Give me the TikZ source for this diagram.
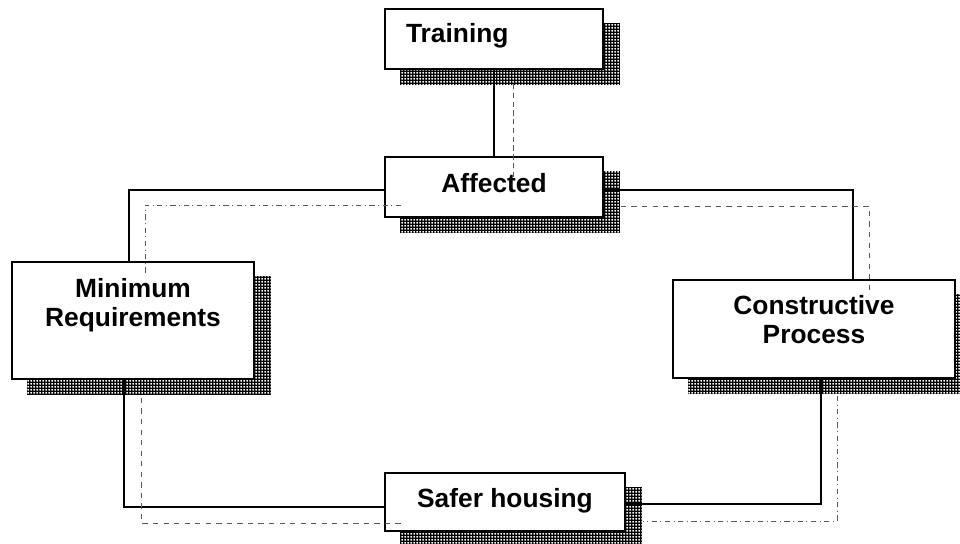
\documentclass[tikz,border=0pt]{standalone}
\usepackage{fontspec}
\setmainfont{Liberation Sans}
\usetikzlibrary{patterns,backgrounds}

% mesh used for the box shadows
\pgfdeclarepatternformonly{meshshadow}{\pgfqpoint{0pt}{0pt}}{\pgfqpoint{1.9pt}{1.9pt}}{\pgfqpoint{1.9pt}{1.9pt}}{%
  \pgfpathrectangle{\pgfqpoint{0pt}{0pt}}{\pgfqpoint{1.9pt}{0.95pt}}%
  \pgfpathrectangle{\pgfqpoint{0pt}{0pt}}{\pgfqpoint{0.95pt}{1.9pt}}%
  \pgfusepath{fill}}

\begin{document}
\begin{tikzpicture}[x=0.02cm, y=-0.02cm,
    box/.style={draw, fill=white, line width=1.1pt, inner sep=0pt, text height=0.7cm,
      font=\bfseries\fontsize{15}{17}\selectfont},
    link/.style={line width=0.9pt},
    ghost/.style={black!65, line width=0.55pt}]
        \useasboundingbox (0,0) rectangle (960,544);

        % Boxes
        \node (train) at (494,39) [box, minimum width=4.36cm, text height=0.68cm, text depth=0.52cm] {\makebox[3.52cm][l]{Training}};
        \node (affect) at (494,187) [box, minimum width=4.36cm, text height=0.72cm, text depth=0.48cm] {Affected};
        \node (minreq) at (133,320.5) [box, minimum width=4.84cm, text depth=1.64cm]
            {\begin{tabular}[t]{@{}c@{}}Minimum\\Requirements\end{tabular}};
        \node (constr) at (814,329) [box, minimum width=5.64cm, text height=0.68cm, text depth=1.28cm]
            {\begin{tabular}[t]{@{}c@{}}Constructive\\Process\end{tabular}};
        \node (safer) at (505,502) [box, minimum width=4.8cm, text height=0.68cm, text depth=0.48cm] {Safer housing};

        % Shadows behind the boxes
        \begin{scope}[on background layer]
            \foreach \n in {train,affect,minreq,constr,safer}
                \fill[pattern=meshshadow, pattern color=black] ([shift={(16,15)}]\n.south west) rectangle ([shift={(16,15)}]\n.north east);
        \end{scope}

        % Top link
        \draw[link] (train) -- (affect);
        \draw[ghost, densely dashed] ([shift={(19,14)}]train.south) -- ([shift={(19,-9)}]affect.center);

        % Left links
        \draw[link] ([shift={(0,3)}]affect.west) -| ([shift={(-4,0)}]minreq.north);
        \draw[ghost, dash dot] ([shift={(17,18)}]affect.west) -| ([shift={(12,14)}]minreq.north);
        \draw[link] ([shift={(-9,0)}]minreq.south) |- ([shift={(0,5)}]safer.west);
        \draw[ghost, dashed] ([shift={(8,18)}]minreq.south) |- ([shift={(17,21)}]safer.west);

        % Right links
        \draw[link] ([shift={(0,3)}]affect.east) -| ([shift={(39,0)}]constr.north);
        \draw[ghost, dashed] ([shift={(17,19)}]affect.east) -| ([shift={(55,12)}]constr.north);
        \draw[link] ([shift={(7,0)}]constr.south) |- ([shift={(0,2)}]safer.east);
        \draw[ghost, dash dot] ([shift={(23,17)}]constr.south) |- ([shift={(17,19)}]safer.east);

\end{tikzpicture}
\end{document}
